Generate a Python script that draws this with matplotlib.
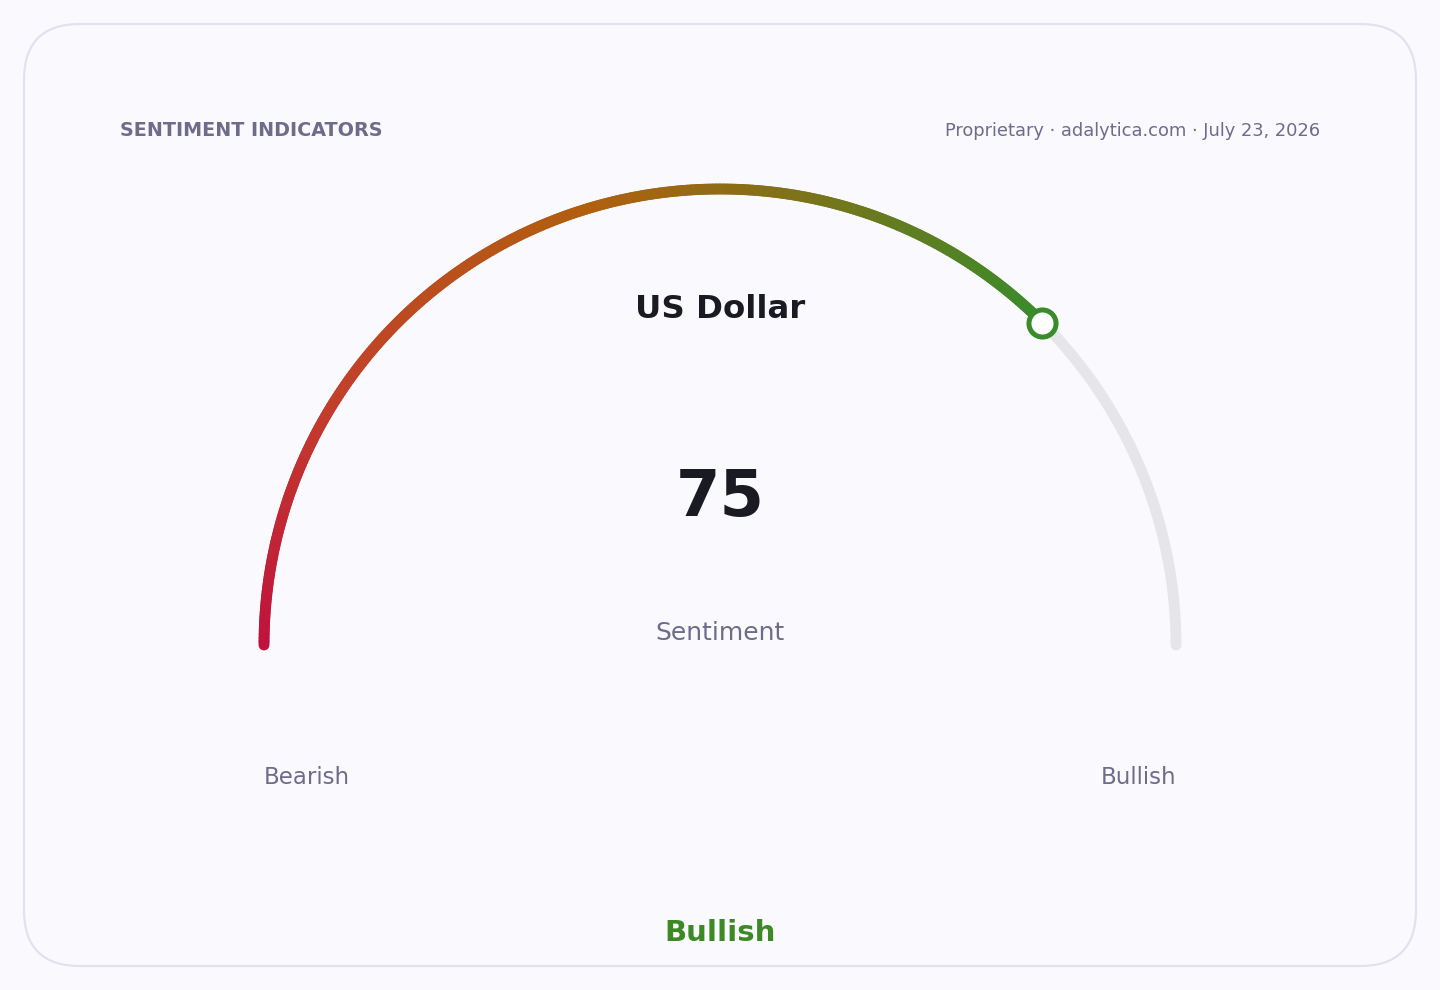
import numpy as np
import matplotlib
matplotlib.use("Agg")
import matplotlib.pyplot as plt
from matplotlib.collections import LineCollection
from matplotlib.colors import LinearSegmentedColormap
from matplotlib.patches import FancyBboxPatch

# ---------------------------------------------------------------------------
# Data
# ---------------------------------------------------------------------------
asset_name = "US Dollar"
value_label = "Sentiment"
sentiment_value = 75
scale_range = [0, 100]
end_labels = ["Bearish", "Bullish"]
verdict = "Bullish"
header_left = "SENTIMENT INDICATORS"
header_right = "Proprietary · adalytica.com · July 23, 2026"

# ---------------------------------------------------------------------------
# Style
# ---------------------------------------------------------------------------
plt.rcParams["font.family"] = ["DejaVu Sans"]
BG = "#f9f9fe"
CARD_EDGE = "#e2e2ee"
MUTED = "#6e6c8a"
DARK = "#1a1a22"
TRACK = "#e5e5ea"
GREEN = "#3d8a24"
grad = LinearSegmentedColormap.from_list(
    "sent", [(0.0, "#c0123e"), (0.25, "#c2402a"), (0.55, "#b0600e"), (1.0, "#3a8b2a")]
)

W, H = 1440, 990
fig = plt.figure(figsize=(W / 100, H / 100), dpi=100, facecolor=BG)
ax = fig.add_axes([0, 0, 1, 1])
ax.set_xlim(0, W)
ax.set_ylim(H, 0)
ax.set_aspect("equal")
ax.axis("off")

card = FancyBboxPatch((24, 24), 1392, 942, boxstyle="round,pad=0,rounding_size=56",
                      facecolor=BG, edgecolor=CARD_EDGE, linewidth=1.6)
ax.add_patch(card)

# gauge geometry (pixel coords, y down)
cx, cy, r = 720, 645, 456
frac = (sentiment_value - scale_range[0]) / (scale_range[1] - scale_range[0])

# background track
th = np.linspace(np.pi, 0, 400)
ax.plot(cx + r * np.cos(th), cy - r * np.sin(th), color=TRACK, lw=7.8,
        solid_capstyle="round", zorder=2)

# filled gradient portion
n = 300
th = np.linspace(np.pi, np.pi * (1 - frac), n + 1)
xs, ys = cx + r * np.cos(th), cy - r * np.sin(th)
pts = np.column_stack([xs, ys]).reshape(-1, 1, 2)
segs = np.concatenate([pts[:-1], pts[1:]], axis=1)
lc = LineCollection(segs, colors=grad(np.linspace(0, 1, n)), linewidths=7.8,
                    capstyle="round", zorder=3)
ax.add_collection(lc)

# end marker
ax.plot(xs[-1], ys[-1], "o", ms=19.5, mfc="white", mec=grad(1.0), mew=3.6, zorder=4)

# texts
ax.text(120, 130, header_left, ha="left", va="center", fontsize=13.8,
        fontweight="bold", color=MUTED)
ax.text(1320, 131, header_right, ha="right", va="center", fontsize=12.9, color=MUTED)
ax.text(cx, 309, asset_name, ha="center", va="center", fontsize=23.3,
        fontweight="bold", color=DARK)
ax.text(cx, 498, f"{sentiment_value}", ha="center", va="center", fontsize=46,
        fontweight="bold", color=DARK)
ax.text(cx, 633, value_label, ha="center", va="center", fontsize=18, color=MUTED)
ax.text(cx - r, 778, end_labels[0], ha="left", va="center", fontsize=16.5, color=MUTED)
ax.text(cx + r, 778, end_labels[1], ha="right", va="center", fontsize=16.5, color=MUTED)
ax.text(cx, 933, verdict, ha="center", va="center", fontsize=21,
        fontweight="bold", color=GREEN)

fig.savefig("out.png", dpi=100, facecolor=BG)
